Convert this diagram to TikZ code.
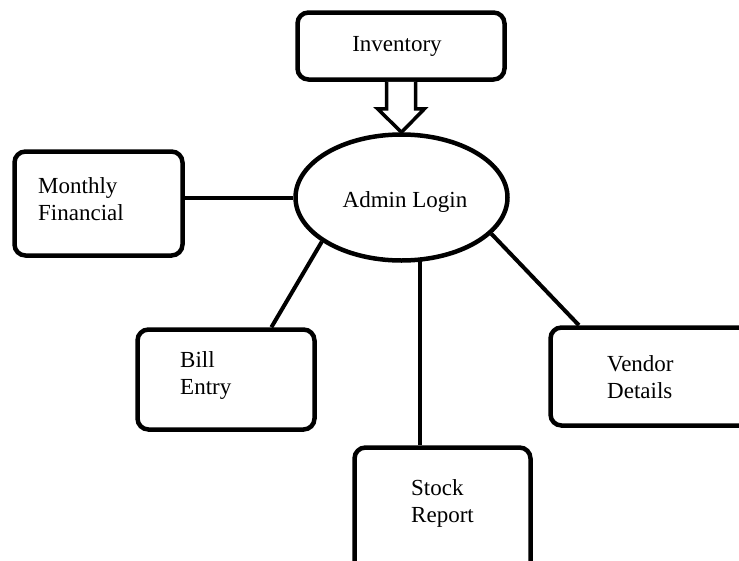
\documentclass[tikz,border=0pt]{standalone}
\usepackage{fontspec}
\setmainfont{Liberation Serif}
\usetikzlibrary{shapes.geometric,calc}

\begin{document}
\begin{tikzpicture}[x=1pt,y=-1pt,
    box/.style={draw,line width=4.5pt,rounded corners=11pt,inner sep=0pt},
    txt/.style={font=\fontsize{23}{27}\selectfont,align=left,inner sep=0pt},
    conn/.style={line width=4pt},
    hollow/.style={line width=3.5pt,line join=miter,fill=white}]

    \clip (0,0) rectangle (739,560);

    % boxes
    \node[box,minimum width=207pt,minimum height=67pt] (inv) at (401,46) {};
    \node[box,minimum width=168pt,minimum height=104pt] (monthly) at (98.5,203.5) {};
    \node[box,minimum width=177pt,minimum height=100pt] (bill) at (226,379.5) {};
    \node[box,minimum width=210pt,minimum height=98pt] (vendor) at (655.5,376.5) {};
    \node[box,minimum width=176pt,minimum height=128pt] (stock) at (442.5,511.5) {};
    \node[draw,ellipse,line width=4.5pt,inner sep=0pt,minimum width=212pt,minimum height=126pt] (admin) at (401.5,197.5) {};

    % texts
    \node[txt] (invtxt) at (397,46) {Inventory};
    \node[txt] (admintxt) at (405,202) {Admin Login};
    \node[txt,anchor=west] (monthlytxt) at (38,199.5) {Monthly\\Financial};
    \node[txt,anchor=west] (billtxt) at (180,375) {Bill\\Entry};
    \node[txt,anchor=west] (vendortxt) at (607,377) {Vendor\\Details};
    \node[txt,anchor=west] (stocktxt) at (411,503) {Stock\\Report};

    % connectors
    \coordinate (billtop) at ($(bill.north west)!0.75!(bill.north east)$);
    \coordinate (vendortop) at ($(vendor.north west)!0.143!(vendor.north east)$);
    \coordinate (stocktop) at ($(stock.north west)!0.378!(stock.north east)$);

    \draw[conn] (monthly.east |- admin.west) -- (admin.west);
    \draw[conn] (admin.209) -- (billtop);
    \draw[conn] (admin.338) -- (vendortop);
    \draw[conn] ($(stocktop |- admin.south)+(0,-3)$) -- (stocktop);

    % arrow
    \draw[hollow] ($(inv.south)+(-14.5,0)$) -- ($(inv.south)+(-14.5,27)$) -- ($(inv.south)+(-23.5,27)$)
        -- (admin.north) -- ($(inv.south)+(23.5,27)$) -- ($(inv.south)+(14.5,27)$) -- ($(inv.south)+(14.5,0)$);

\end{tikzpicture}
\end{document}
